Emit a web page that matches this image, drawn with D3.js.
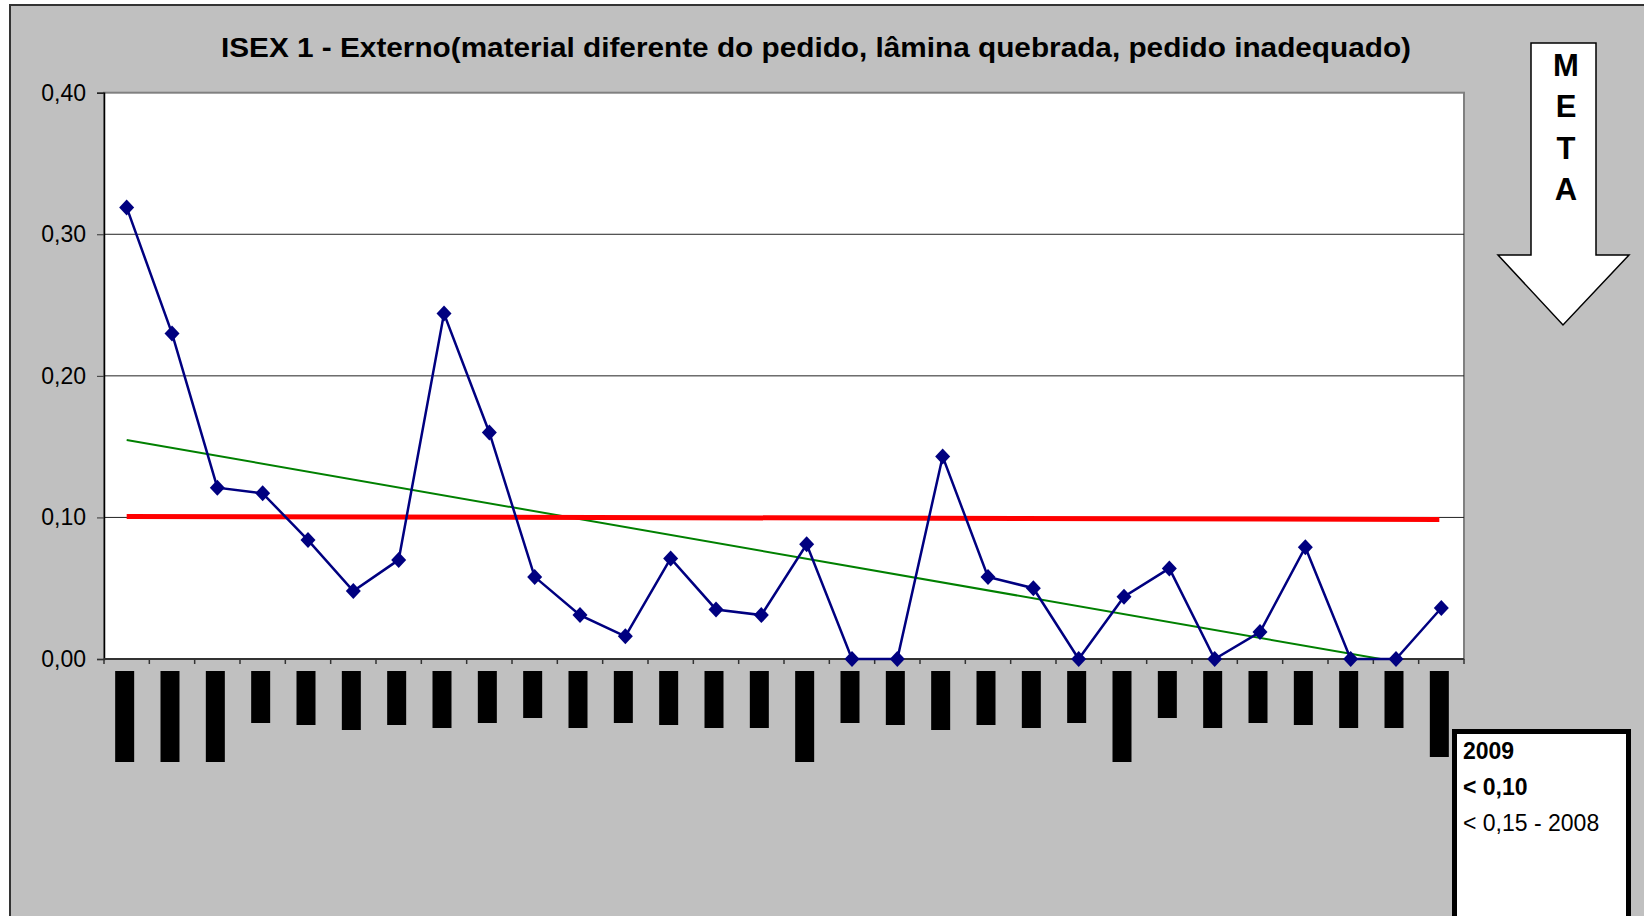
<!DOCTYPE html>
<html>
<head>
<meta charset="utf-8">
<script src="https://cdn.jsdelivr.net/npm/d3@7"></script>
<style>
  body { margin: 0; background: #fff; }
  svg { display: block; }
</style>
</head>
<body>
<svg id="chart"></svg>
<script>
// categories (their labels are blacked out in the source picture)
var categories = ["1","2","3","4","5","6","7","8","9","10","11","12","13","14","15",
                  "16","17","18","19","20","21","22","23","24","25","26","27","28","29","30"];
// ISEX 1 values
var isex = [0.319, 0.230, 0.121, 0.117, 0.084, 0.048, 0.070, 0.244, 0.160, 0.058,
            0.031, 0.016, 0.071, 0.035, 0.031, 0.081, 0.000, 0.000, 0.143, 0.058,
            0.050, 0.000, 0.044, 0.064, 0.000, 0.019, 0.079, 0.000, 0.000, 0.036];
// meta line (first and last category)
var meta = [0.1007, 0.0986];
// length of the blacked-out category labels
var labelLen = [91, 91, 91, 52, 54, 59, 54, 57, 52, 47, 57, 52, 54, 57, 57,
                91, 52, 54, 59, 54, 57, 52, 91, 47, 57, 52, 54, 57, 57, 86];
var yTicks = [0, 0.1, 0.2, 0.3, 0.4];
var metaText = ["M", "E", "T", "A"];
var boxLines = ["2009", "< 0,10", "< 0,15 - 2008"];

var W = 1644, H = 916;
var font = "'Liberation Sans', Arial, sans-serif";
var svg = d3.select("#chart").attr("width", W).attr("height", H);

var plot = {left: 104, top: 92.7, right: 1464, bottom: 659};

var x = d3.scaleBand().domain(categories).range([plot.left, plot.right]);
var y = d3.scaleLinear().domain([0, 0.4]).range([plot.bottom, plot.top]);
var cx = function(c) { return x(c) + x.bandwidth() / 2; };
var fmt = function(d) { return d3.format(".2f")(d).replace(".", ","); };

// chart area
svg.append("rect")
    .attr("x", 10).attr("y", 5).attr("width", W + 100).attr("height", H + 100)
    .attr("fill", "#c0c0c0").attr("stroke", "#333").attr("stroke-width", 2);

// plot area
svg.append("rect")
    .attr("x", plot.left).attr("y", plot.top)
    .attr("width", plot.right - plot.left).attr("height", plot.bottom - plot.top)
    .attr("fill", "#fff").attr("stroke", "#808080").attr("stroke-width", 2);

svg.append("defs").append("clipPath").attr("id", "clip")
  .append("rect")
    .attr("x", plot.left).attr("y", plot.top)
    .attr("width", plot.right - plot.left).attr("height", plot.bottom - plot.top);

// gridlines
svg.append("g").selectAll("line")
    .data(yTicks.filter(function(d) { return d > 0 && d < 0.4; }))
    .enter().append("line")
    .attr("x1", plot.left).attr("x2", plot.right)
    .attr("y1", d => y(d)).attr("y2", d => y(d))
    .attr("stroke", "#222").attr("stroke-width", 1);

// y axis
var yAxis = svg.append("g")
    .attr("transform", "translate(" + plot.left + ",0)")
    .call(d3.axisLeft(y).tickValues(yTicks).tickSize(7).tickPadding(11).tickFormat(fmt));
yAxis.select(".domain").attr("stroke", "#000").attr("stroke-width", 1.5);
yAxis.selectAll(".tick line").attr("stroke", "#333");
yAxis.selectAll("text").attr("font-family", font).attr("font-size", 23).attr("fill", "#000");

// x axis line and ticks
svg.append("line")
    .attr("x1", plot.left).attr("x2", plot.right)
    .attr("y1", plot.bottom).attr("y2", plot.bottom)
    .attr("stroke", "#333").attr("stroke-width", 2);
svg.append("g").selectAll("line")
    .data(categories.concat(["end"]))
    .enter().append("line")
    .attr("x1", (d, i) => plot.left + i * x.bandwidth())
    .attr("x2", (d, i) => plot.left + i * x.bandwidth())
    .attr("y1", plot.bottom).attr("y2", plot.bottom + 5)
    .attr("stroke", "#333").attr("stroke-width", 1.5);

// blacked-out category labels
svg.append("g").selectAll("rect")
    .data(categories)
    .enter().append("rect")
    .attr("x", d => cx(d) - 11.5)
    .attr("y", plot.bottom + 12)
    .attr("width", 19)
    .attr("height", (d, i) => labelLen[i])
    .attr("fill", "#000");

// linear trendline (least squares over the series, like the spreadsheet's trendline)
var n = isex.length;
var mx = d3.mean(isex, (d, i) => i), my = d3.mean(isex);
var sxy = d3.sum(isex, (d, i) => (i - mx) * (d - my));
var sxx = d3.sum(isex, (d, i) => (i - mx) * (i - mx));
var slope = sxy / sxx, icpt = my - slope * mx;
svg.append("line")
    .attr("clip-path", "url(#clip)")
    .attr("x1", cx(categories[0])).attr("y1", y(icpt))
    .attr("x2", cx(categories[n - 1])).attr("y2", y(icpt + slope * (n - 1)))
    .attr("stroke", "#008000").attr("stroke-width", 2);

// meta line
svg.append("line")
    .attr("x1", cx(categories[0])).attr("y1", y(meta[0]))
    .attr("x2", cx(categories[n - 1]) - 2).attr("y2", y(meta[1]))
    .attr("stroke", "#ff0000").attr("stroke-width", 5);

// series line
var line = d3.line().x((d, i) => cx(categories[i])).y(d => y(d));
svg.append("path")
    .datum(isex)
    .attr("d", line)
    .attr("fill", "none")
    .attr("stroke", "#000080")
    .attr("stroke-width", 2.5);

// diamond markers
svg.append("g").selectAll("path")
    .data(isex)
    .enter().append("path")
    .attr("transform", (d, i) => "translate(" + cx(categories[i]) + "," + y(d) + ")")
    .attr("d", "M0,-8L7.5,0L0,8L-7.5,0Z")
    .attr("fill", "#000080");

// title
svg.append("text")
    .attr("x", 816).attr("y", 57)
    .attr("text-anchor", "middle")
    .attr("font-family", font).attr("font-weight", "bold").attr("font-size", 28)
    .attr("textLength", 1190).attr("lengthAdjust", "spacingAndGlyphs")
    .text("ISEX 1 - Externo(material diferente do pedido, lâmina quebrada, pedido inadequado)");

// META arrow
svg.append("path")
    .attr("d", "M1531,43L1596,43L1596,255L1629,255L1563,325L1498,255L1531,255Z")
    .attr("fill", "#fff").attr("stroke", "#000").attr("stroke-width", 1.5);
svg.append("g").selectAll("text")
    .data(metaText)
    .enter().append("text")
    .attr("x", 1566).attr("y", (d, i) => 76 + i * 41.3)
    .attr("text-anchor", "middle")
    .attr("font-family", font).attr("font-weight", "bold").attr("font-size", 31)
    .text(d => d);

// goal box
svg.append("rect")
    .attr("x", 1454.5).attr("y", 731.5).attr("width", 174).attr("height", 300)
    .attr("fill", "#fff").attr("stroke", "#000").attr("stroke-width", 5);
svg.append("g").selectAll("text")
    .data(boxLines)
    .enter().append("text")
    .attr("x", 1463).attr("y", (d, i) => [759, 795, 831][i])
    .attr("font-family", font)
    .attr("font-weight", (d, i) => i < 2 ? "bold" : "normal")
    .attr("font-size", 23)
    .text(d => d);
</script>
</body>
</html>
